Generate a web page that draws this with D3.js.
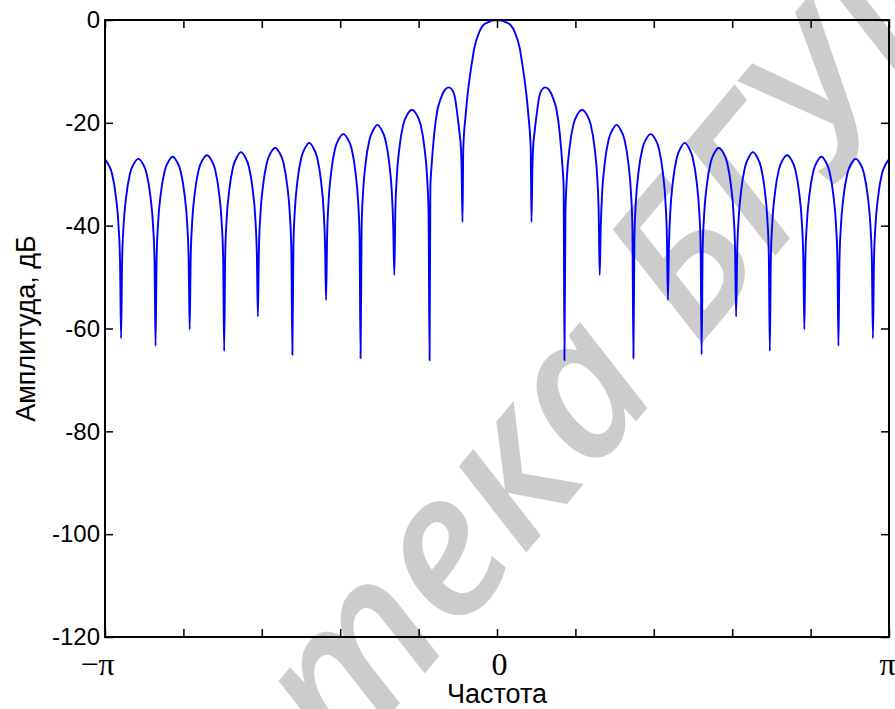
<!DOCTYPE html>
<html>
<head>
<meta charset="utf-8">
<script src="https://cdn.jsdelivr.net/npm/d3@7"></script>
<style>
  html, body { margin: 0; padding: 0; background: #ffffff; }
  svg { display: block; }
</style>
</head>
<body>
<svg id="chart" width="895" height="709"></svg>
<script>
// ---- Data (frequency in units of pi, amplitude in dB) ----
const freqLeft = [-1.000,-0.992,-0.982,-0.9718,-0.9654,-0.9616,-0.959,
  -0.9564,-0.9526,-0.9462,-0.936,-0.926,-0.915,-0.904,-0.894,-0.8838,-0.8774,-0.8736,-0.871,
  -0.8684,-0.8646,-0.8582,-0.848,-0.838,-0.8275,-0.817,-0.807,-0.7968,-0.7904,-0.7866,-0.784,
  -0.7814,-0.7776,-0.7712,-0.761,-0.751,-0.740,-0.729,-0.719,-0.7088,-0.7024,-0.6986,-0.696,
  -0.6934,-0.6896,-0.6832,-0.673,-0.663,-0.653,-0.643,-0.633,-0.6228,-0.6164,-0.6126,-0.610,
  -0.6074,-0.6036,-0.5972,-0.587,-0.577,-0.566,-0.555,-0.545,-0.5348,-0.5284,-0.5246,-0.522,
  -0.5194,-0.5156,-0.5092,-0.499,-0.489,-0.479,-0.469,-0.459,-0.4488,-0.4424,-0.4386,-0.436,
  -0.4334,-0.4296,-0.4232,-0.413,-0.403,-0.392,-0.381,-0.371,-0.3608,-0.3544,-0.3506,-0.348,
  -0.3454,-0.3416,-0.3352,-0.325,-0.315,-0.305,-0.295,-0.285,-0.2748,-0.2684,-0.2646,-0.262,
  -0.2594,-0.2556,-0.2492,-0.239,-0.229,-0.217,-0.205,-0.195,-0.1848,-0.1784,-0.1746,-0.172,
  -0.170,-0.167,-0.160,-0.152,-0.143,-0.133,-0.123,-0.114,-0.107,-0.101,-0.096,-0.092,-0.0905,-0.088,
  -0.086,-0.080,-0.076,-0.071,-0.065,-0.058,-0.045,-0.035,-0.025];
const dbLeft = [-27.1,-28.0,-29.9,-34.6,-40.1,-47.1,-61.9,
  -47.0,-40.0,-34.5,-29.8,-27.9,-27.0,-27.9,-29.8,-34.5,-40.0,-47.0,-63.4,
  -46.6,-39.6,-34.1,-29.4,-27.5,-26.6,-27.5,-29.4,-34.1,-39.6,-46.6,-60.2,
  -46.3,-39.3,-33.8,-29.1,-27.2,-26.3,-27.2,-29.1,-33.8,-39.3,-46.3,-64.4,
  -45.7,-38.7,-33.2,-28.5,-26.6,-25.7,-26.6,-28.5,-33.2,-38.7,-45.7,-57.7,
  -44.9,-37.9,-32.4,-27.7,-25.8,-24.9,-25.8,-27.7,-32.4,-37.9,-44.9,-65.1,
  -43.9,-36.9,-31.4,-26.7,-24.8,-23.9,-24.8,-26.7,-31.4,-36.9,-43.9,-54.5,
  -42.2,-35.2,-29.7,-25.0,-23.1,-22.2,-23.1,-25.0,-29.7,-35.2,-42.2,-65.8,
  -40.4,-33.4,-27.9,-23.2,-21.3,-20.4,-21.3,-23.2,-27.9,-33.4,-40.4,-49.6,
  -37.5,-30.5,-25.0,-20.3,-18.4,-17.5,-18.4,-20.3,-25.0,-30.5,-37.5,-66.2,
  -32.4,-28.5,-22.0,-17.5,-15.2,-13.6,-13.1,-13.6,-15.2,-18.5,-21.7,-25.0,-28.0,-39.3,
  -25.0,-18.5,-15.2,-12.0,-8.8,-5.5,-2.3,-1.0,-0.5];

const freqRight = [0,0.025,0.035,0.045,0.058,0.065,0.071,0.076,0.080,0.086,0.088,
  0.0905,0.092,0.096,0.101,0.107,0.114,0.123,0.133,0.143,0.152,0.160,0.167,0.170,0.172,
  0.1746,0.1784,0.1848,0.195,0.205,0.217,0.229,0.239,0.2492,0.2556,0.2594,0.262,
  0.2646,0.2684,0.2748,0.285,0.295,0.305,0.315,0.325,0.3352,0.3416,0.3454,0.348,
  0.3506,0.3544,0.3608,0.371,0.381,0.392,0.403,0.413,0.4232,0.4296,0.4334,0.436,
  0.4386,0.4424,0.4488,0.459,0.469,0.479,0.489,0.499,0.5092,0.5156,0.5194,0.522,
  0.5246,0.5284,0.5348,0.545,0.555,0.566,0.577,0.587,0.5972,0.6036,0.6074,0.610,
  0.6126,0.6164,0.6228,0.633,0.643,0.653,0.663,0.673,0.6832,0.6896,0.6934,0.696,
  0.6986,0.7024,0.7088,0.719,0.729,0.740,0.751,0.761,0.7712,0.7776,0.7814,0.784,
  0.7866,0.7904,0.7968,0.807,0.817,0.8275,0.838,0.848,0.8582,0.8646,0.8684,0.871,
  0.8736,0.8774,0.8838,0.894,0.904,0.915,0.926,0.936,0.9462,0.9526,0.9564,0.959,
  0.9616,0.9654,0.9718,0.982,0.992,1.000];
const dbRight = [0,-0.5,-1.0,-2.3,-5.5,-8.8,-12.0,-15.2,-18.5,-25.0,-39.3,
  -28.0,-25.0,-21.7,-18.5,-15.2,-13.6,-13.1,-13.6,-15.2,-17.5,-22.0,-28.5,-32.4,-66.2,
  -37.5,-30.5,-25.0,-20.3,-18.4,-17.5,-18.4,-20.3,-25.0,-30.5,-37.5,-49.6,
  -40.4,-33.4,-27.9,-23.2,-21.3,-20.4,-21.3,-23.2,-27.9,-33.4,-40.4,-65.8,
  -42.2,-35.2,-29.7,-25.0,-23.1,-22.2,-23.1,-25.0,-29.7,-35.2,-42.2,-54.5,
  -43.9,-36.9,-31.4,-26.7,-24.8,-23.9,-24.8,-26.7,-31.4,-36.9,-43.9,-65.1,
  -44.9,-37.9,-32.4,-27.7,-25.8,-24.9,-25.8,-27.7,-32.4,-37.9,-44.9,-57.7,
  -45.7,-38.7,-33.2,-28.5,-26.6,-25.7,-26.6,-28.5,-33.2,-38.7,-45.7,-64.4,
  -46.3,-39.3,-33.8,-29.1,-27.2,-26.3,-27.2,-29.1,-33.8,-39.3,-46.3,-60.2,
  -46.6,-39.6,-34.1,-29.4,-27.5,-26.6,-27.5,-29.4,-34.1,-39.6,-46.6,-63.4,
  -47.0,-40.0,-34.5,-29.8,-27.9,-27.0,-27.9,-29.8,-34.5,-40.0,-47.0,-61.9,
  -47.1,-40.1,-34.6,-29.9,-28.0,-27.1];

const xTickValues = [-1,-0.8,-0.6,-0.4,-0.2,0,0.2,0.4,0.6,0.8,1];
const xTickLabels = {"-1": "\u2212\u03C0", "0": "0", "1": "\u03C0"};
const yTickValues = [-120,-100,-80,-60,-40,-20,0];
const xLabel = "Частота";
const yLabel = "Амплитуда, дБ";
const watermark = "Библиотека БГУИР";

// ---- Build table ----
const freq = freqLeft.concat(freqRight);
const amp = dbLeft.concat(dbRight);
const points = freq.map((f, i) => ({f: f, db: amp[i]}));

// ---- Layout ----
const svg = d3.select("#chart");
const L = 105, R = 889, T = 20, B = 637;
const x = d3.scaleLinear().domain([-1, 1]).range([L, R]);
const y = d3.scaleLinear().domain([-120, 0]).range([B, T]);
const sans = "'Liberation Sans', Arial, Helvetica, sans-serif";
const serif = "'Liberation Serif', 'Times New Roman', serif";

// Watermark (behind)
svg.append("text")
  .attr("transform", "translate(488,598) rotate(-50)")
  .attr("text-anchor", "middle")
  .attr("font-family", "'Open Sans', 'Noto Sans', sans-serif")
  .attr("font-style", "italic")
  .attr("font-weight", 600)
  .attr("font-size", 198)
  .attr("fill", "#cccccc")
  .text(watermark);

// Curve
const line = d3.line()
  .x(d => x(d.f))
  .y(d => y(d.db))
  .curve(d3.curveMonotoneX);

svg.append("path")
  .datum(points)
  .attr("d", line)
  .attr("fill", "none")
  .attr("stroke", "#0000ff")
  .attr("stroke-width", 1.9)
  .attr("stroke-linejoin", "round");

// Axes (ticks inward)
const gx = svg.append("g").attr("transform", `translate(0,${B})`)
  .call(d3.axisBottom(x).tickValues(xTickValues).tickSizeInner(-8).tickSizeOuter(0).tickPadding(15)
    .tickFormat(d => xTickLabels[String(Math.round(d * 10) / 10)] || ""));
gx.selectAll("text").attr("font-family", serif).attr("font-size", 32).attr("fill", "#000")
  .attr("dx", d => d === -1 ? -8 : (d === 1 ? -2 : 2));

const gxt = svg.append("g").attr("transform", `translate(0,${T})`)
  .call(d3.axisTop(x).tickValues(xTickValues).tickSizeInner(-8).tickSizeOuter(0).tickFormat(""));

const gy = svg.append("g").attr("transform", `translate(${L},0)`)
  .call(d3.axisLeft(y).tickValues(yTickValues).tickSizeInner(-8).tickSizeOuter(0).tickPadding(5)
    .tickFormat(d => String(d)));
gy.selectAll("text").attr("font-family", sans).attr("font-size", 24).attr("fill", "#000");

const gyr = svg.append("g").attr("transform", `translate(${R},0)`)
  .call(d3.axisRight(y).tickValues(yTickValues).tickSizeInner(-8).tickSizeOuter(0).tickFormat(""));

[gx, gxt, gy, gyr].forEach(g => {
  g.select(".domain").remove();
  g.selectAll(".tick line").attr("stroke", "#000").attr("stroke-width", 1.5);
});

// Frame
svg.append("rect")
  .attr("x", L).attr("y", T).attr("width", R - L).attr("height", B - T)
  .attr("fill", "none").attr("stroke", "#000").attr("stroke-width", 2);

// Axis labels
svg.append("text")
  .attr("x", (L + R) / 2).attr("y", 703)
  .attr("text-anchor", "middle")
  .attr("font-family", sans).attr("font-size", 27).attr("fill", "#000")
  .text(xLabel);

svg.append("text")
  .attr("transform", `translate(35,${(T + B) / 2}) rotate(-90)`)
  .attr("text-anchor", "middle")
  .attr("font-family", sans).attr("font-size", 27).attr("fill", "#000")
  .text(yLabel);
</script>
</body>
</html>
